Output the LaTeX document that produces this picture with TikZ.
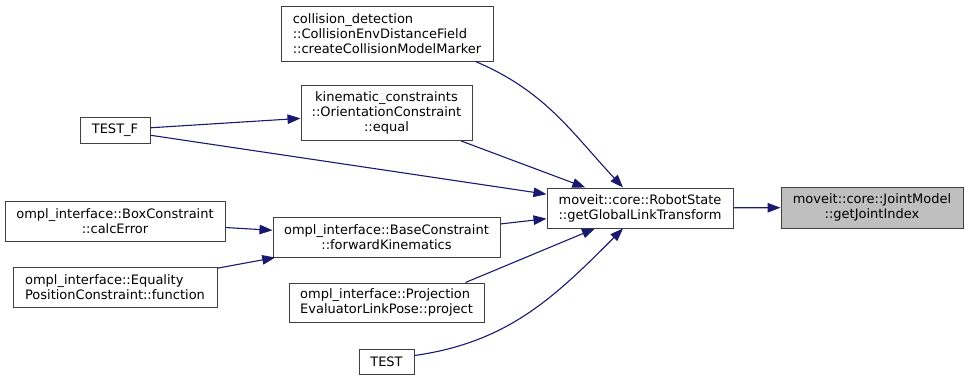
\documentclass[tikz,border=0pt]{standalone}
\usepackage{fontspec}
\setmainfont{DejaVu Sans}
\usetikzlibrary{positioning, arrows.meta}

\definecolor{edgeblue}{HTML}{191970}
\definecolor{boxline}{HTML}{404040}
\definecolor{boxgrey}{HTML}{BFBFBF}

\begin{document}
\begin{tikzpicture}[
    x=1pt, y=1pt,
    fn/.style={draw=boxline, fill=white, line width=1pt, inner sep=2pt, align=center, font=\fontsize{13}{15}\selectfont},
    fnleft/.style={fn, align=left},
    current/.style={fn, fill=boxgrey},
    call/.style={-{Triangle[length=13pt, width=9.5pt]}, draw=edgeblue, line width=1.1pt}
]
    \useasboundingbox (0,0) rectangle (968,-380);

    \node[fnleft, minimum width=212pt, minimum height=55pt] (coll) at (387,-33.5) {collision\_detection\\::CollisionEnvDistanceField\\::createCollisionModelMarker};
    \node[fn, minimum width=171pt, minimum height=55pt] (kin) at (386.5,-113) {kinematic\_constraints\\::OrientationConstraint\\::equal};
    \node[fn, minimum width=70pt, minimum height=26pt] (testf) at (115,-130) {TEST\_F};
    \node[fn, minimum width=220pt, minimum height=40pt] (box) at (115,-221) {ompl\_interface::BoxConstraint\\::calcError};
    \node[fn, minimum width=227pt, minimum height=40pt] (base) at (386.5,-237) {ompl\_interface::BaseConstraint\\::forwardKinematics};
    \node[fnleft, minimum width=204pt, minimum height=40pt] (eq) at (115,-287) {ompl\_interface::Equality\\PositionConstraint::function};
    \node[fnleft, minimum width=195pt, minimum height=39pt] (proj) at (386.5,-302.5) {ompl\_interface::Projection\\EvaluatorLinkPose::project};
    \node[fn, minimum width=55pt, minimum height=25pt] (test) at (386.5,-361.5) {TEST};
    \node[fn, minimum width=186pt, minimum height=40pt] (rs) at (640,-208) {moveit::core::RobotState\\::getGlobalLinkTransform};
    \node[current, minimum width=182pt, minimum height=41pt] (jm) at (872,-207.5) {moveit::core::JointModel\\::getJointIndex};

    \draw[call] (rs) -- (jm);
    \draw[call] ([xshift=-18pt]coll.south east) to[out=-23, in=133] ([xshift=-17pt]rs.north);
    \draw[call] (kin) -- (rs);
    \draw[call] (testf) -- (kin);
    \draw[call] (testf) -- (rs);
    \draw[call] (base) -- (rs);
    \draw[call] ([xshift=-19pt]proj.north east) -- ([xshift=-45pt]rs.south);
    \draw[call] ([yshift=6pt]test.east) to[out=8, in=-135] ([xshift=-17pt]rs.south);
    \draw[call] (box) -- (base);
    \draw[call] (eq) -- (base);
\end{tikzpicture}
\end{document}
